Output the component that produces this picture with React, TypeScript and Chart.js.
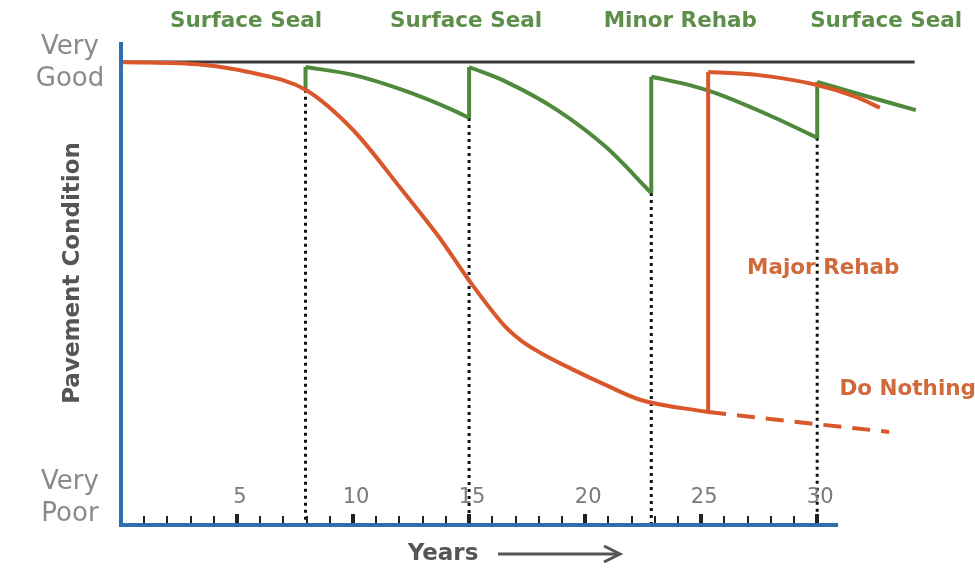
import { useEffect, useRef } from "react";
import { Chart, registerables } from "chart.js";

Chart.register(...registerables);

// ---- data (years / pavement condition 0..100) ----
const doNothingYears = [0, 3.5, 5.7, 7.95, 10, 12.1, 13.7, 15, 16.6, 17.3, 18.1, 19.5, 20.9, 22.4, 25.3];
const doNothingCondition = [100, 99.4, 97.6, 94.0, 85.3, 72.4, 62.2, 52.8, 42.6, 39.6, 37.1, 33.5, 30.2, 27.0, 24.4];

const doNothingTailYears = [25.3, 29, 33.1];
const doNothingTailCondition = [24.4, 22.3, 20.1];

const majorRehabYear = 25.3;
const majorRehabYears = [25.3, 27.4, 30, 31.7, 32.7];
const majorRehabCondition = [97.8, 97.2, 95.0, 92.4, 90.1];

const treatmentYears = [7.95, 15, 22.85, 30];
const conditionBeforeTreatment = [94.0, 87.9, 71.7, 83.6];
const conditionAfterTreatment = [98.9, 98.9, 96.8, 95.7];

const seal1Years = [7.95, 10, 12.1, 14.3, 15];
const seal1Condition = [98.9, 97.2, 94.0, 89.6, 87.9];
const seal2Years = [15, 16.6, 18.8, 20.9, 22.85];
const seal2Condition = [98.9, 95.7, 89.6, 81.6, 71.7];
const seal3Years = [22.85, 24.5, 25.6, 28.1, 30];
const seal3Condition = [96.8, 95.0, 93.3, 88.1, 83.6];
const seal4Years = [30, 31.9, 34.25];
const seal4Condition = [95.7, 92.9, 89.6];

const veryGoodLineYears = [0, 34.2];
const veryGoodLevel = 100;

const xTickLabels = [5, 10, 15, 20, 25, 30];
const xMinorTickYears = Array.from({ length: 30 }, (_, i) => i + 1);
const xAxisEndYear = 30.9;

const yTickValues = [100, 6];
const yTickLabels = [["Very", "Good"], ["Very", "Poor"]];

const treatmentLabels = ["Surface Seal", "Surface Seal", "Minor Rehab", "Surface Seal"];
const treatmentLabelYears = [5.39, 14.87, 24.1, 32.97];
const treatmentLabelLevel = 108.8;

const orangeLabels = ["Major Rehab", "Do Nothing"];
const orangeLabelYears = [30.26, 33.9];
const orangeLabelLevels = [55.5, 29.3];

// ---- styles ----
const ORANGE = "#d9572a";
const GREEN = "#4f8a3c";
const AXIS_BLUE = "#2f6fae";
const FONT = "'DejaVu Sans', sans-serif";

const pts = (xs: number[], ys: number[]) => xs.map((x, i) => ({ x, y: ys[i] }));

const overlayPlugin = {
  id: "overlay",
  afterDatasetsDraw(chart: any) {
    const { ctx, chartArea } = chart;
    const x = chart.scales.x;
    const y = chart.scales.y;
    const x0 = x.getPixelForValue(0);
    const yBase = y.getPixelForValue(0);
    ctx.save();

    // tick marks
    ctx.fillStyle = "#222";
    xMinorTickYears.forEach((yr) => {
      const px = x.getPixelForValue(yr);
      const major = yr % 5 === 0;
      const w = major ? 4 : 2;
      const h = major ? 11 : 9;
      ctx.fillRect(Math.round(px - w / 2), yBase - h, w, h);
    });

    // axes
    ctx.strokeStyle = AXIS_BLUE;
    ctx.lineWidth = 4;
    ctx.beginPath();
    ctx.moveTo(x0, chartArea.top);
    ctx.lineTo(x0, yBase + 2);
    ctx.stroke();
    ctx.beginPath();
    ctx.moveTo(x0 - 2, yBase);
    ctx.lineTo(x.getPixelForValue(xAxisEndYear), yBase);
    ctx.stroke();

    // x tick labels
    ctx.fillStyle = "#7a7a7a";
    ctx.font = `21px ${FONT}`;
    ctx.textAlign = "center";
    ctx.textBaseline = "middle";
    xTickLabels.forEach((v) => {
      ctx.fillText(String(v), x.getPixelForValue(v) + 3, yBase - 27);
    });

    // y tick labels
    ctx.fillStyle = "#8a8a8a";
    ctx.font = `26px ${FONT}`;
    yTickValues.forEach((v, i) => {
      const py = y.getPixelForValue(v);
      const lines = yTickLabels[i];
      ctx.fillText(lines[0], 70, py - 15);
      ctx.fillText(lines[1], 70, py + 17);
    });

    // y title
    ctx.save();
    ctx.translate(73, 273);
    ctx.rotate(-Math.PI / 2);
    ctx.fillStyle = "#555";
    ctx.font = `bold 23px ${FONT}`;
    ctx.fillText("Pavement Condition", 0, 0);
    ctx.restore();

    // x title + arrow
    ctx.fillStyle = "#555";
    ctx.font = `bold 23px ${FONT}`;
    ctx.fillText("Years", 443, 554);
    ctx.strokeStyle = "#555";
    ctx.lineWidth = 3;
    ctx.beginPath();
    ctx.moveTo(498, 554);
    ctx.lineTo(618, 554);
    ctx.stroke();
    ctx.beginPath();
    ctx.moveTo(604, 546);
    ctx.lineTo(620, 554);
    ctx.lineTo(604, 562);
    ctx.stroke();

    // treatment labels
    ctx.fillStyle = "#5e8f4a";
    ctx.font = `bold 21.5px ${FONT}`;
    treatmentLabels.forEach((t, i) => {
      ctx.fillText(t, x.getPixelForValue(treatmentLabelYears[i]), y.getPixelForValue(treatmentLabelLevel));
    });

    // orange labels
    ctx.fillStyle = "#d2693a";
    ctx.font = `bold 21.5px ${FONT}`;
    orangeLabels.forEach((t, i) => {
      ctx.fillText(t, x.getPixelForValue(orangeLabelYears[i]), y.getPixelForValue(orangeLabelLevels[i]));
    });

    ctx.restore();
  },
};

export default function App() {
  const ref = useRef<HTMLCanvasElement>(null);
  useEffect(() => {
    if (!ref.current) return;
    const line = (data: any[], color: string, width: number, extra: any = {}) => ({
      data,
      borderColor: color,
      borderWidth: width,
      pointRadius: 0,
      fill: false,
      tension: 0,
      ...extra,
    });
    const smooth = { cubicInterpolationMode: "monotone" };

    const datasets: any[] = [
      line(pts(doNothingYears, doNothingCondition), ORANGE, 4, smooth),
      line(pts(doNothingTailYears, doNothingTailCondition), ORANGE, 4, { borderDash: [18, 11] }),
      line(
        [
          { x: majorRehabYear, y: doNothingCondition[doNothingCondition.length - 1] },
          { x: majorRehabYear, y: majorRehabCondition[0] },
        ],
        ORANGE,
        4
      ),
      line(pts(majorRehabYears, majorRehabCondition), ORANGE, 4, smooth),
      line(pts(seal1Years, seal1Condition), GREEN, 4, smooth),
      line(pts(seal2Years, seal2Condition), GREEN, 4, smooth),
      line(pts(seal3Years, seal3Condition), GREEN, 4, smooth),
      line(pts(seal4Years, seal4Condition), GREEN, 4, smooth),
      ...treatmentYears.map((t, i) =>
        line(
          [
            { x: t, y: conditionBeforeTreatment[i] },
            { x: t, y: conditionAfterTreatment[i] },
          ],
          GREEN,
          4
        )
      ),
      ...treatmentYears.map((t, i) =>
        line(
          [
            { x: t, y: conditionBeforeTreatment[i] },
            { x: t, y: 0 },
          ],
          "#111",
          3,
          { borderDash: [3, 4] }
        )
      ),
      line(pts(veryGoodLineYears, [veryGoodLevel, veryGoodLevel]), "#3a3a3a", 3),
    ];

    const chart = new Chart(ref.current, {
      type: "line",
      data: { datasets },
      options: {
        animation: false,
        responsive: false,
        layout: { padding: { left: 121, right: 58, top: 42, bottom: 44 } },
        plugins: { legend: { display: false }, tooltip: { enabled: false } },
        scales: {
          x: { type: "linear", min: 0, max: 34.3, display: false },
          y: { type: "linear", min: 0, max: 104.3, display: false },
        },
      },
      plugins: [overlayPlugin],
    } as any);
    return () => chart.destroy();
  }, []);
  return (
    <div style={{ position: "absolute", left: 0, top: 0, width: 975, height: 569, background: "#fff" }}>
      <canvas ref={ref} width={975} height={569} />
    </div>
  );
}
